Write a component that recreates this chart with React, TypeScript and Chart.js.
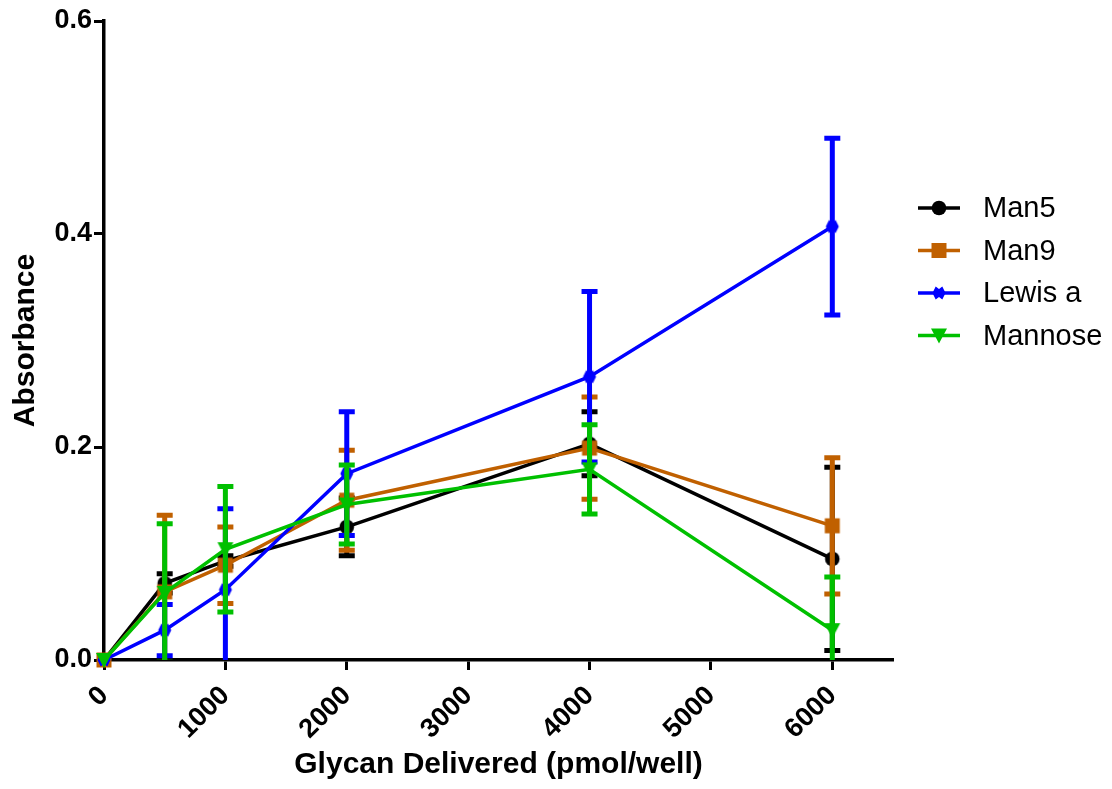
import React, { useEffect, useRef } from "react";
import { Chart, registerables } from "chart.js";

Chart.register(...registerables);

// Glycan delivered per well (pmol/well)
const glycan = [0, 500, 1000, 2000, 4000, 6000];

// Mean absorbance and error (±) per series
const man5 = [0, 0.072, 0.093, 0.125, 0.203, 0.095];
const man5Err = [0, 0.009, 0.005, 0.027, 0.03, 0.086];
const man9 = [0, 0.064, 0.089, 0.15, 0.199, 0.126];
const man9Err = [0, 0.072, 0.036, 0.047, 0.048, 0.064];
const lewisA = [0, 0.028, 0.066, 0.175, 0.266, 0.407];
const lewisAErr = [0, 0.024, 0.076, 0.058, 0.08, 0.083];
const mannose = [0, 0.063, 0.104, 0.146, 0.179, 0.028];
const mannoseErr = [0, 0.065, 0.059, 0.037, 0.042, 0.05];

const seriesNames = ["Man5", "Man9", "Lewis a", "Mannose"];
const seriesValues = [man5, man9, lewisA, mannose];
const seriesErrors = [man5Err, man9Err, lewisAErr, mannoseErr];
const seriesColors = ["#000000", "#C06000", "#0000FF", "#00C000"];
const seriesMarkers = ["circle", "square", "bowtie", "triangleDown"];

const xTickValues = [0, 1000, 2000, 3000, 4000, 5000, 6000];
const yTickValues = [0, 0.2, 0.4, 0.6];

const FONT = "'Liberation Sans', Arial, Helvetica, sans-serif";

// Trace a marker outline centred on (x, y)
function traceMarker(ctx: CanvasRenderingContext2D, kind: string, x: number, y: number) {
  ctx.beginPath();
  if (kind === "circle") {
    ctx.arc(x, y, 7.3, 0, Math.PI * 2);
  } else if (kind === "square") {
    ctx.rect(x - 7.5, y - 7.5, 15, 15);
  } else if (kind === "bowtie") {
    ctx.moveTo(x - 6.5, y);
    ctx.lineTo(x - 3.3, y - 6.5);
    ctx.lineTo(x, y - 4);
    ctx.lineTo(x + 3.3, y - 6.5);
    ctx.lineTo(x + 6.5, y);
    ctx.lineTo(x + 3.3, y + 6.5);
    ctx.lineTo(x, y + 4);
    ctx.lineTo(x - 3.3, y + 6.5);
    ctx.closePath();
  } else {
    ctx.moveTo(x - 8, y - 7);
    ctx.lineTo(x + 8, y - 7);
    ctx.lineTo(x, y + 8);
    ctx.closePath();
  }
}

function makeMarkerImage(kind: string, color: string): HTMLCanvasElement {
  const c = document.createElement("canvas");
  c.width = 18;
  c.height = 18;
  const g = c.getContext("2d")!;
  g.fillStyle = color;
  traceMarker(g, kind, 9, 9);
  g.fill();
  return c;
}

// Vertical error bars with caps, drawn just beneath each series
const errorBarPlugin = {
  id: "errorBars",
  beforeDatasetDraw(chart: any, args: any) {
    const i = args.index;
    const vals = seriesValues[i];
    const errs = seriesErrors[i];
    const { ctx, chartArea, scales } = chart;
    ctx.save();
    ctx.beginPath();
    ctx.rect(chartArea.left - 30, 0, chartArea.right - chartArea.left + 60, chartArea.bottom);
    ctx.clip();
    ctx.strokeStyle = seriesColors[i];
    ctx.lineCap = "butt";
    ctx.lineWidth = 5;
    glycan.forEach((g, k) => {
      const e = errs[k];
      if (!e) return;
      const px = scales.x.getPixelForValue(g);
      const yTop = scales.y.getPixelForValue(vals[k] + e);
      const yBot = scales.y.getPixelForValue(vals[k] - e);
      ctx.beginPath();
      ctx.moveTo(px, yTop);
      ctx.lineTo(px, yBot);
      ctx.moveTo(px - 8, yTop);
      ctx.lineTo(px + 8, yTop);
      ctx.moveTo(px - 8, yBot);
      ctx.lineTo(px + 8, yBot);
      ctx.stroke();
    });
    ctx.restore();
  },
};

// Legend on the right: line sample with marker, then the series name
const sideLegendPlugin = {
  id: "sideLegend",
  afterDraw(chart: any) {
    const { ctx, chartArea } = chart;
    const x0 = chartArea.right + 25;
    const lineLen = 42;
    const textX = chartArea.right + 90;
    const top = 208;
    const step = 42.5;
    ctx.save();
    seriesNames.forEach((name, i) => {
      const y = top + i * step;
      ctx.strokeStyle = seriesColors[i];
      ctx.lineWidth = 3.5;
      ctx.beginPath();
      ctx.moveTo(x0, y);
      ctx.lineTo(x0 + lineLen, y);
      ctx.stroke();
      ctx.fillStyle = seriesColors[i];
      traceMarker(ctx, seriesMarkers[i], x0 + lineLen / 2, y);
      ctx.fill();
      ctx.fillStyle = "#000";
      ctx.font = `29px ${FONT}`;
      ctx.textBaseline = "middle";
      ctx.textAlign = "left";
      ctx.fillText(name, textX, y + 1);
    });
    ctx.restore();
  },
};

export default function App() {
  const canvasRef = useRef<HTMLCanvasElement | null>(null);

  useEffect(() => {
    const canvas = canvasRef.current;
    if (!canvas) return;

    const datasets = seriesNames.map((name, i) => ({
      label: name,
      data: glycan.map((g, k) => ({ x: g, y: seriesValues[i][k] })),
      borderColor: seriesColors[i],
      backgroundColor: seriesColors[i],
      borderWidth: 3.5,
      pointStyle: makeMarkerImage(seriesMarkers[i], seriesColors[i]),
      pointRadius: 8,
      tension: 0,
      clip: false as any,
      order: seriesNames.length - 1 - i,
    }));

    const tickGrid = {
      display: true,
      drawOnChartArea: false,
      drawTicks: true,
      tickLength: 10,
      tickWidth: 3,
      tickColor: "#000",
    };

    const chart = new Chart(canvas, {
      type: "line",
      data: { datasets },
      plugins: [errorBarPlugin, sideLegendPlugin],
      options: {
        animation: false,
        responsive: true,
        maintainAspectRatio: false,
        layout: { padding: { top: 21, right: 219, left: 0, bottom: 0 } },
        plugins: {
          legend: { display: false },
          tooltip: { enabled: false },
        },
        scales: {
          x: {
            type: "linear",
            min: 0,
            max: 6500,
            afterBuildTicks: (scale: any) => {
              scale.ticks = xTickValues.map((v) => ({ value: v }));
            },
            afterFit: (scale: any) => {
              scale.height = 129;
            },
            grid: tickGrid,
            border: { display: true, color: "#000", width: 3.5 },
            ticks: {
              color: "#000",
              font: { family: FONT, size: 27, weight: "bold" },
              minRotation: 45,
              maxRotation: 45,
              padding: 10,
              callback: (v: any) => String(v),
            },
            title: {
              display: true,
              text: "Glycan Delivered (pmol/well)",
              color: "#000",
              font: { family: FONT, size: 30, weight: "bold" },
              padding: { top: 0, bottom: 6 },
            },
          },
          y: {
            type: "linear",
            min: 0,
            max: 0.6,
            afterBuildTicks: (scale: any) => {
              scale.ticks = yTickValues.map((v) => ({ value: v }));
            },
            afterFit: (scale: any) => {
              scale.width = 104;
            },
            grid: tickGrid,
            border: { display: true, color: "#000", width: 3.5 },
            ticks: {
              color: "#000",
              font: { family: FONT, size: 27, weight: "bold" },
              padding: 2,
              callback: (v: any) => Number(v).toFixed(1),
            },
            title: {
              display: true,
              text: "Absorbance",
              color: "#000",
              font: { family: FONT, size: 30, weight: "bold" },
              padding: { top: 8, bottom: 0 },
            },
          },
        },
      } as any,
    });

    return () => chart.destroy();
  }, []);

  return (
    <div style={{ position: "absolute", left: 0, top: 0, width: 1112, height: 789, background: "#fff" }}>
      <canvas ref={canvasRef} />
    </div>
  );
}
